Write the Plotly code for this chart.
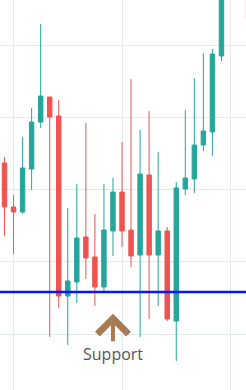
import plotly.graph_objects as go

# Candle index (time axis) and OHLC prices
idx = list(range(28))
opens = [123.67, 117.58, 116.89, 122.84, 129.34, 132.80, 130.17, 105.26, 107.20, 113.43,
         110.66, 106.51, 114.26, 119.65, 114.39, 110.93, 122.01, 110.93, 114.26, 101.80,
         120.07, 121.45, 126.16, 127.96, 138.48, 149.00, 152.80, 156.40]
highs = [124.50, 119.24, 127.27, 131.28, 142.91, 132.80, 132.39, 117.44, 120.76, 129.20,
         116.61, 120.76, 121.59, 126.57, 135.29, 128.24, 130.87, 125.19, 114.81, 121.04,
         131.00, 135.43, 138.89, 139.45, 150.20, 153.50, 157.00, 157.20]
lows = [113.56, 111.07, 116.61, 119.93, 128.51, 99.58, 103.60, 98.48, 104.29, 107.61,
        103.88, 105.95, 110.80, 112.04, 109.27, 99.58, 102.08, 103.88, 101.80, 96.26,
        119.24, 119.52, 125.33, 124.64, 137.79, 147.20, 151.90, 142.90]
closes = [117.58, 116.89, 122.98, 129.34, 132.94, 130.03, 105.26, 107.34, 113.29, 110.52,
          106.51, 114.39, 119.65, 114.26, 110.80, 122.15, 110.93, 114.26, 102.08, 120.21,
          121.59, 126.16, 128.10, 138.75, 149.00, 152.80, 156.40, 143.60]

SUPPORT_LEVEL = 105.8
SUPPORT_LABEL = "Support"
LABEL_X = 12
LABEL_Y = 102.8

UP = "#26a69a"
DOWN = "#ef5350"
GRID = "#e1e9ef"

fig = go.Figure(go.Candlestick(
    x=idx, open=opens, high=highs, low=lows, close=closes,
    increasing=dict(line=dict(color=UP, width=1), fillcolor=UP),
    decreasing=dict(line=dict(color=DOWN, width=1), fillcolor=DOWN),
    whiskerwidth=0, showlegend=False, hoverinfo="skip",
))

fig.add_hline(y=SUPPORT_LEVEL, line=dict(color="#0a14ff", width=2.5))

fig.add_annotation(
    x=LABEL_X, y=LABEL_Y, xref="x", yref="y",
    text=SUPPORT_LABEL, showarrow=True,
    arrowhead=4, arrowsize=1.5, arrowwidth=4, arrowcolor="#a57c55",
    ax=0, ay=40,
    font=dict(family="Open Sans", size=16, color="#555555"),
)

fig.update_layout(
    width=246, height=390,
    margin=dict(l=0, r=0, t=0, b=0),
    paper_bgcolor="white", plot_bgcolor="white",
    showlegend=False,
    xaxis=dict(range=[-0.498, 26.714], rangeslider=dict(visible=False),
               tick0=1, dtick=12, showgrid=True, gridcolor=GRID, gridwidth=1,
               showticklabels=False, zeroline=False, showline=False, ticks=""),
    yaxis=dict(range=[92.25, 146.23], tick0=0, dtick=10,
               showgrid=True, gridcolor=GRID, gridwidth=1,
               showticklabels=False, zeroline=False, showline=False, ticks=""),
)

fig.write_html("out.html")
